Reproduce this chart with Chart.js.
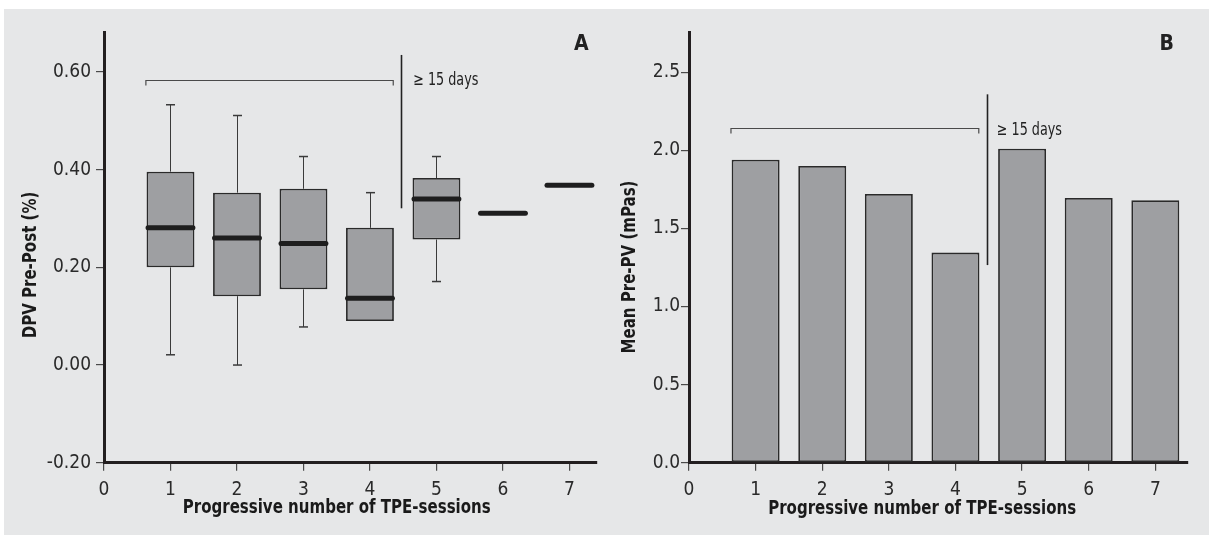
<!DOCTYPE html>
<html><head><meta charset="utf-8">
<script src="https://cdn.jsdelivr.net/npm/chart.js@4.4.1/dist/chart.umd.min.js"></script>
<style>
html,body{margin:0;padding:0;background:#fff;width:1209px;height:535px;overflow:hidden;}
#bg{position:absolute;left:4px;top:9px;width:1205px;height:526px;background:#e6e7e8;}
canvas{position:absolute;top:0;}
#cA{left:0}
#cB{left:604px}
</style></head><body>
<div id="bg"></div>
<canvas id="cA" width="604" height="535"></canvas>
<canvas id="cB" width="605" height="535"></canvas>
<script>
// ---------- data ----------
const sessions   = [1, 2, 3, 4, 5, 6, 7];
const dpvMin     = [0.021, 0.000, 0.078, null,  0.171, null, null];
const dpvQ1      = [0.200, 0.141, 0.155, 0.090, 0.257, null, null];
const dpvMedian  = [0.281, 0.260, 0.249, 0.137, 0.340, 0.311, 0.368];
const dpvQ3      = [0.396, 0.353, 0.361, 0.281, 0.383, null, null];
const dpvMax     = [0.533, 0.511, 0.427, 0.353, 0.427, null, null];
const meanPrePV  = [1.94, 1.90, 1.72, 1.345, 2.01, 1.695, 1.68];
const dpvTicks   = [-0.2, 0, 0.2, 0.4, 0.6];
const pvTicks    = [0, 0.5, 1.0, 1.5, 2.0, 2.5];
const xTicks     = [0, 1, 2, 3, 4, 5, 6, 7];
const xTitle     = 'Progressive number of TPE-sessions';
const yTitleA    = 'DPV Pre-Post (%)';
const yTitleB    = 'Mean Pre-PV (mPas)';
const gapLabel   = '\u2265 15 days';

// ---------- styles ----------
const FONT = "'Liberation Sans Narrow','DejaVu Sans Condensed','Liberation Sans',sans-serif";
const BOXFILL = '#9e9fa2', EDGE = '#2a2a2a', AXIS = '#231f20';
const NARROW = 0.835;
Chart.defaults.font.family = FONT;
Chart.defaults.animation = false;

function narrowText(ctx, text, x, y, rot) {
  ctx.save();
  ctx.translate(x, y);
  if (rot) ctx.rotate(rot);
  ctx.scale(NARROW, 1);
  ctx.fillText(text, 0, 0);
  ctx.restore();
}

const extras = {
  id: 'extras',
  beforeDatasetsDraw(chart, args, o) {
    if (!o.box) return;
    const xs = chart.scales.x, ys = chart.scales.y, ctx = chart.ctx;
    ctx.save();
    ctx.strokeStyle = '#3a3a3a'; ctx.lineWidth = 1;
    sessions.forEach((s, i) => {
      if (dpvQ3[i] == null) return;
      const px = Math.round(xs.getPixelForValue(s)) + 0.5;
      const seg = (a, b) => {
        const ya = ys.getPixelForValue(a), yb = ys.getPixelForValue(b);
        ctx.beginPath(); ctx.lineWidth = 1; ctx.moveTo(px, ya); ctx.lineTo(px, yb); ctx.stroke();
        ctx.beginPath(); ctx.lineWidth = 1.5; ctx.moveTo(px - 4.5, yb); ctx.lineTo(px + 4.5, yb); ctx.stroke();
      };
      if (dpvMax[i] != null) seg(dpvQ3[i], dpvMax[i]);
      if (dpvMin[i] != null) seg(dpvQ1[i], dpvMin[i]);
    });
    ctx.restore();
  },
  afterDatasetsDraw(chart, args, o) {
    const xs = chart.scales.x, ys = chart.scales.y, ctx = chart.ctx;
    ctx.save();
    if (o.box) {
      ctx.strokeStyle = '#1e1e1e'; ctx.lineWidth = 5; ctx.lineCap = 'round';
      sessions.forEach((s, i) => {
        const py = ys.getPixelForValue(dpvMedian[i]);
        const l = xs.getPixelForValue(s - o.half) + 1.5, r = xs.getPixelForValue(s + o.half) - 1.5;
        ctx.beginPath(); ctx.moveTo(l, py); ctx.lineTo(r, py); ctx.stroke();
      });
      ctx.lineCap = 'butt';
    }
    // bracket
    const b = o.bracket;
    const by = Math.round(ys.getPixelForValue(b.y)) + 0.5;
    const bl = xs.getPixelForValue(b.x0), br = xs.getPixelForValue(b.x1);
    ctx.strokeStyle = '#4a4a4a'; ctx.lineWidth = 1.2;
    ctx.beginPath(); ctx.moveTo(bl, by + 5); ctx.lineTo(bl, by); ctx.lineTo(br, by); ctx.lineTo(br, by + 5); ctx.stroke();
    // separator
    const sx = Math.round(xs.getPixelForValue(o.sep.x)) + 0.5;
    ctx.strokeStyle = '#222'; ctx.lineWidth = 1.6;
    ctx.beginPath(); ctx.moveTo(sx, ys.getPixelForValue(o.sep.y0)); ctx.lineTo(sx, ys.getPixelForValue(o.sep.y1)); ctx.stroke();
    // gap label
    ctx.fillStyle = '#222'; ctx.font = '17px ' + FONT; ctx.textBaseline = 'middle'; ctx.textAlign = 'left';
    narrowText(ctx, gapLabel, xs.getPixelForValue(o.label.x), ys.getPixelForValue(o.label.y));
    // panel letter
    ctx.font = 'bold 21px ' + FONT; ctx.textAlign = 'center';
    ctx.fillText(o.letter.t, xs.getPixelForValue(o.letter.x), ys.getPixelForValue(o.letter.y));
    // axis titles
    ctx.font = 'bold 20px ' + FONT; ctx.fillStyle = '#1a1a1a';
    narrowText(ctx, xTitle, xs.getPixelForValue(3.5), o.xTitleY);
    narrowText(ctx, o.yTitle.t, o.yTitle.x, o.yTitle.y, -Math.PI / 2);
    ctx.restore();
  }
};
Chart.register(extras);

function scalesFor(yTicks, yMin, yMax, fmt, yW, xMax, yPad) {
  const grid = { display: true, drawOnChartArea: false, drawTicks: true, tickLength: 8, color: '#4a4a4a', lineWidth: 1.2 };
  const border = { display: true, color: AXIS, width: 3 };
  return {
    x: {
      type: 'linear', min: 0, max: xMax, offset: false,
      grid: Object.assign({ offset: false }, grid), border,
      afterBuildTicks: s => { s.ticks = xTicks.map(v => ({ value: v })); },
      afterFit: s => { s.height = 72.3; },
      ticks: { font: { size: 19 }, color: '#2a2a2a', padding: 8, maxRotation: 0, callback: v => String(v) }
    },
    y: {
      type: 'linear', min: yMin, max: yMax,
      grid, border,
      afterBuildTicks: s => { s.ticks = yTicks.map(v => ({ value: v })); },
      afterFit: s => { s.width = yW; },
      ticks: { font: { size: 19 }, color: '#2a2a2a', padding: yPad, callback: fmt }
    }
  };
}

new Chart(document.getElementById('cA'), {
  type: 'bar',
  data: {
    datasets: [{
      data: sessions.map((s, i) => ({ x: s, y: [dpvQ1[i], dpvQ3[i]] })).filter((d, i) => dpvQ3[i] != null),
      backgroundColor: BOXFILL, borderColor: EDGE, borderWidth: 1.8, borderSkipped: false,
      barPercentage: 0.72, categoryPercentage: 1.0
    }]
  },
  options: {
    responsive: false,
    layout: { padding: { top: 32, right: 7.3, bottom: 0, left: 0 } },
    plugins: {
      legend: { display: false }, tooltip: { enabled: false },
      extras: {
        box: true, half: 0.36,
        bracket: { y: 0.583, x0: 0.63, x1: 4.35 },
        sep: { x: 4.47, y0: 0.635, y1: 0.321 },
        label: { x: 4.65, y: 0.583 },
        letter: { t: 'A', x: 7.18, y: 0.656 },
        xTitleY: 508,
        yTitle: { t: yTitleA, x: 31, y: 265 }
      }
    },
    scales: scalesFor(dpvTicks, -0.2, 0.682, v => Number(v).toFixed(2), 104, 7.41, 5)
  }
});

new Chart(document.getElementById('cB'), {
  type: 'bar',
  data: {
    datasets: [{
      data: sessions.map((s, i) => ({ x: s, y: meanPrePV[i] })),
      backgroundColor: BOXFILL, borderColor: EDGE, borderWidth: 1.8, borderSkipped: false,
      barPercentage: 0.72, categoryPercentage: 1.0
    }]
  },
  options: {
    responsive: false,
    layout: { padding: { top: 32, right: 21.7, bottom: 0, left: 0 } },
    plugins: {
      legend: { display: false }, tooltip: { enabled: false },
      extras: {
        box: false,
        bracket: { y: 2.145, x0: 0.63, x1: 4.35 },
        sep: { x: 4.47, y0: 2.358, y1: 1.265 },
        label: { x: 4.62, y: 2.125 },
        letter: { t: 'B', x: 7.17, y: 2.674 },
        xTitleY: 509,
        yTitle: { t: yTitleB, x: 26, y: 267 }
      }
    },
    scales: scalesFor(pvTicks, 0, 2.757, v => Number(v).toFixed(1), 85, 7.48, 1)
  }
});
</script>
</body></html>
